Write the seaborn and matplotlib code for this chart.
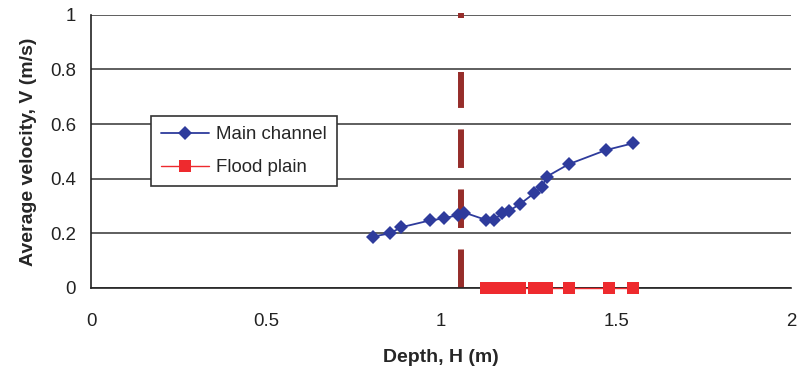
import matplotlib
matplotlib.use("Agg")
import matplotlib.pyplot as plt
import seaborn as sns
import pandas as pd

# main channel readings (depth m, velocity m/s)
main_depth = [0.805, 0.854, 0.885, 0.967, 1.009, 1.047, 1.066, 1.128, 1.152,
              1.175, 1.195, 1.226, 1.266, 1.288, 1.302, 1.364, 1.471, 1.549]
main_vel = [0.188, 0.200, 0.222, 0.247, 0.255, 0.267, 0.276, 0.249, 0.249,
            0.276, 0.283, 0.308, 0.347, 0.371, 0.408, 0.453, 0.505, 0.530]

# flood plain readings
flood_depth = [1.128, 1.152, 1.175, 1.195, 1.226, 1.266, 1.288, 1.302,
               1.364, 1.48, 1.549]
flood_vel = [0, 0, 0, 0, 0, 0, 0, 0, 0, 0, 0]

bankfull_depth = 1.057

x_ticks = [0, 0.5, 1, 1.5, 2]
x_labels = ["0", "0.5", "1", "1.5", "2"]
y_ticks = [0, 0.2, 0.4, 0.6, 0.8, 1]
y_labels = ["0", "0.2", "0.4", "0.6", "0.8", "1"]

main_df = pd.DataFrame({"depth": main_depth, "vel": main_vel})
flood_df = pd.DataFrame({"depth": flood_depth, "vel": flood_vel})

sns.set_style("white")
plt.rcParams["font.family"] = ["Liberation Sans", "DejaVu Sans"]

fig, ax = plt.subplots(figsize=(8, 3.72), dpi=100)
fig.subplots_adjust(left=0.114, right=0.989, top=0.960, bottom=0.226)

for y in y_ticks:
    ax.axhline(y, color="#333333", lw=1.1, zorder=0)

# bankfull marker line (top dash mostly hidden in the original)
ax.vlines(bankfull_depth, 0, 0.79, color="#962D2A", lw=4.3,
          linestyles=(0, (6.45, 3.6)), zorder=1)
ax.vlines(bankfull_depth, 0.99, 1.008, color="#962D2A", lw=4.3, zorder=1,
          clip_on=False)

sns.lineplot(data=flood_df, x="depth", y="vel", ax=ax, color="#EE2A2E",
             lw=1.0, marker="s", markersize=8.2, markeredgewidth=0,
             sort=False, label="Flood plain", zorder=3, clip_on=False)
sns.lineplot(data=main_df, x="depth", y="vel", ax=ax, color="#2E3B9C",
             lw=1.3, marker="D", markersize=7.5, markeredgewidth=0,
             sort=False, label="Main channel", zorder=4)

ax.set_xlim(0, 2)
ax.set_ylim(0, 1)
ax.set_xticks(x_ticks)
ax.set_xticklabels(x_labels)
ax.set_yticks(y_ticks)
ax.set_yticklabels(y_labels)
ax.tick_params(axis="both", labelsize=13.4, colors="#222222", direction="out",
               width=1)
ax.tick_params(axis="x", length=5, pad=13)
ax.tick_params(axis="y", length=6, pad=5)

for s in ["top", "right"]:
    ax.spines[s].set_visible(False)
for s in ["left", "bottom"]:
    ax.spines[s].set_color("#222222")
    ax.spines[s].set_linewidth(1.2)

ax.set_xlabel("Depth, H (m)", fontsize=14, fontweight="bold", labelpad=14)
ax.set_ylabel("Average velocity, V (m/s)", fontsize=14, fontweight="bold",
              labelpad=9)

handles, labels = ax.get_legend_handles_labels()
leg = ax.legend(handles[::-1], labels[::-1], loc="upper left",
                bbox_to_anchor=(0.0857, 0.63), borderaxespad=0,
                fontsize=13.4, frameon=True, fancybox=False,
                edgecolor="#333333", framealpha=1, borderpad=0.55,
                labelspacing=0.85, handlelength=2.55, handletextpad=0.4)
leg.get_frame().set_linewidth(1.2)

fig.savefig("out.png", dpi=100)
